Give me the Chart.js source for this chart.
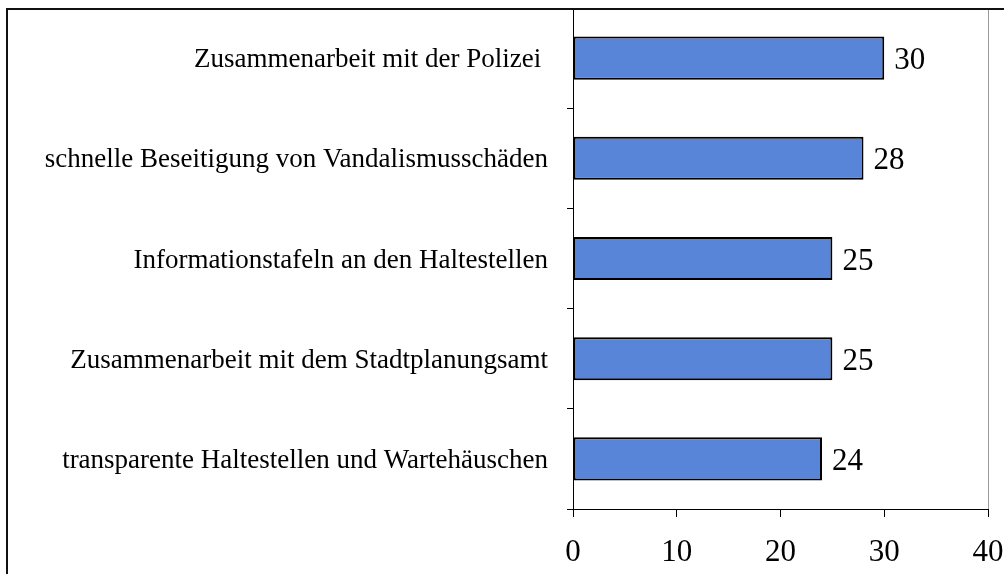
<!DOCTYPE html>
<html>
<head>
<meta charset="utf-8">
<script src="https://cdn.jsdelivr.net/npm/chart.js@4"></script>
<style>
    html, body { margin: 0; padding: 0; background: #fff; overflow: hidden; }
    #wrap { position: absolute; left: 0; top: 0; width: 1040px; height: 620px; }
    #frame { position: absolute; left: 6px; top: 8px; width: 1200px; height: 800px; border: 2px solid #111; pointer-events: none; }
</style>
</head>
<body>
<div id="wrap"><canvas id="chart"></canvas></div>
<div id="frame"></div>
<script>
// chart data
const categories = [
    'Zusammenarbeit mit der Polizei ',
    'schnelle Beseitigung von Vandalismusschäden',
    'Informationstafeln an den Haltestellen',
    'Zusammenarbeit mit dem Stadtplanungsamt',
    'transparente Haltestellen und Wartehäuschen'
];
const values = [30, 28, 25, 25, 24];
const xTicks = [0, 10, 20, 30, 40];

const serif = '"Liberation Serif", "Times New Roman", serif';

// grey plot area frame, like the Excel original
const plotFrame = {
    id: 'plotFrame',
    beforeDraw(chart) {
        const { ctx, chartArea: a } = chart;
        ctx.save();
        ctx.strokeStyle = '#999';
        ctx.lineWidth = 1;
        ctx.strokeRect(a.left + 0.5, a.top + 0.5, a.right - a.left, a.bottom - a.top);
        ctx.restore();
    }
};

// value next to each bar
const valueLabels = {
    id: 'valueLabels',
    afterDatasetsDraw(chart) {
        const ctx = chart.ctx;
        const meta = chart.getDatasetMeta(0);
        ctx.save();
        ctx.font = '31px ' + serif;
        ctx.fillStyle = '#000';
        ctx.textAlign = 'left';
        ctx.textBaseline = 'middle';
        meta.data.forEach((bar, i) => {
            ctx.fillText(String(values[i]), bar.x + 10, bar.y + 3);
        });
        ctx.restore();
    }
};

new Chart(document.getElementById('chart'), {
    type: 'bar',
    data: {
        labels: categories,
        datasets: [{
            data: values,
            backgroundColor: '#5985D9',
            borderColor: '#000',
            borderWidth: 2,
            borderSkipped: false,
            barPercentage: 0.43,
            categoryPercentage: 1
        }]
    },
    options: {
        indexAxis: 'y',
        responsive: true,
        maintainAspectRatio: false,
        animation: false,
        layout: { padding: { left: 0, top: 8, right: 52, bottom: 0 } },
        plugins: {
            legend: { display: false },
            tooltip: { enabled: false }
        },
        scales: {
            x: {
                type: 'linear',
                min: xTicks[0],
                max: xTicks[xTicks.length - 1],
                afterBuildTicks: (scale) => {
                    scale.ticks = xTicks.map(v => ({ value: v }));
                },
                ticks: {
                    font: { family: serif, size: 31 },
                    color: '#000',
                    padding: 17
                },
                grid: {
                    drawOnChartArea: false,
                    drawTicks: true,
                    tickLength: 8,
                    tickColor: '#000'
                },
                border: { color: '#000', width: 1 },
                afterFit: (scale) => {
                    scale.height = 111;
                    scale.paddingLeft = 0;
                    scale.paddingRight = 0;
                }
            },
            y: {
                ticks: {
                    font: { family: serif, size: 27 },
                    color: '#000',
                    padding: 19,
                    labelOffset: 2
                },
                grid: {
                    offset: true,
                    drawOnChartArea: false,
                    drawTicks: true,
                    tickLength: 6,
                    tickColor: '#000'
                },
                border: { color: '#000', width: 1 },
                afterFit: (scale) => {
                    scale.width = 573;
                    scale.paddingTop = 0;
                    scale.paddingBottom = 0;
                }
            }
        }
    },
    plugins: [plotFrame, valueLabels]
});
</script>
</body>
</html>
